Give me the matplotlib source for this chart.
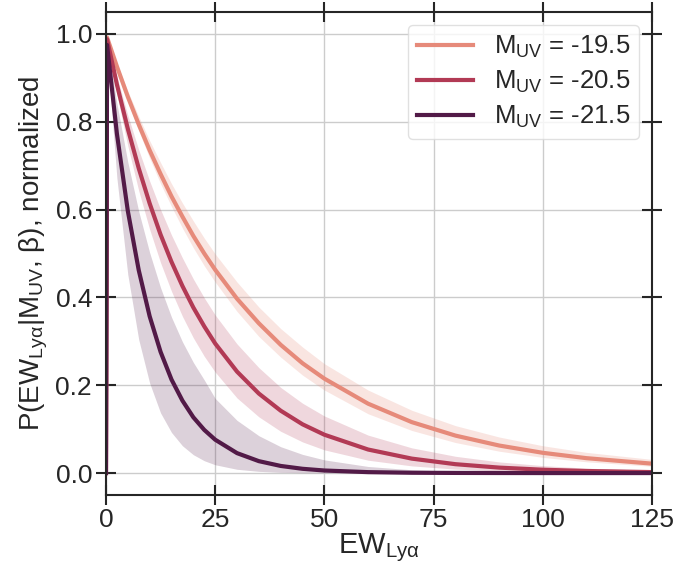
import numpy as np
import matplotlib

matplotlib.use("Agg")
import matplotlib.pyplot as plt

plt.rcParams["font.family"] = ["Liberation Sans", "DejaVu Sans"]
plt.rcParams["mathtext.fontset"] = "custom"
plt.rcParams["mathtext.rm"] = "Liberation Sans"
plt.rcParams["mathtext.it"] = "Liberation Sans:italic"

# EW grid (Angstrom) and normalized P(EW | M_UV, beta) per magnitude bin
ew = [0, 0.25, 2.5, 5, 7.5, 10, 12.5, 15, 17.5, 20, 22.5, 25, 30, 35, 40,
      45, 50, 60, 70, 80, 90, 100, 110, 125]

p_195 = [0.0, 0.992, 0.926, 0.857, 0.794, 0.735, 0.681, 0.630, 0.584, 0.540,
         0.500, 0.463, 0.397, 0.341, 0.292, 0.250, 0.215, 0.158, 0.116,
         0.0853, 0.0627, 0.0461, 0.0339, 0.0214]
lo_195 = [0.0, 0.992, 0.920, 0.846, 0.779, 0.717, 0.659, 0.607, 0.558, 0.513,
          0.472, 0.435, 0.368, 0.311, 0.264, 0.223, 0.189, 0.135, 0.097,
          0.0695, 0.0498, 0.0357, 0.0256, 0.0155]
hi_195 = [0.0, 0.993, 0.933, 0.870, 0.812, 0.757, 0.707, 0.659, 0.615, 0.574,
          0.535, 0.499, 0.435, 0.378, 0.329, 0.287, 0.249, 0.189, 0.143,
          0.108, 0.0821, 0.0622, 0.0471, 0.0311]

p_205 = [0.0, 0.988, 0.885, 0.784, 0.694, 0.614, 0.543, 0.481, 0.426, 0.377,
         0.334, 0.295, 0.231, 0.181, 0.142, 0.111, 0.0873, 0.0536, 0.0329,
         0.0202, 0.0124, 0.0076, 0.0047, 0.0022]
lo_205 = [0.0, 0.985, 0.863, 0.745, 0.643, 0.555, 0.479, 0.414, 0.357, 0.308,
          0.266, 0.230, 0.171, 0.128, 0.0951, 0.0709, 0.0528, 0.0293, 0.0163,
          0.0090, 0.0050, 0.0028, 0.0016, 0.0006]
hi_205 = [0.0, 0.990, 0.903, 0.815, 0.736, 0.665, 0.600, 0.542, 0.490, 0.442,
          0.399, 0.360, 0.294, 0.240, 0.195, 0.159, 0.130, 0.0864, 0.0574,
          0.0382, 0.0254, 0.0169, 0.0112, 0.0061]

p_215 = [0.0, 0.975, 0.773, 0.597, 0.462, 0.357, 0.276, 0.213, 0.165, 0.127,
         0.0983, 0.0760, 0.0454, 0.0271, 0.0162, 0.0097, 0.0058, 0.0021,
         0.0007, 0.0003, 0.0001, 0.0, 0.0, 0.0]
lo_215 = [0.0, 0.961, 0.672, 0.452, 0.304, 0.205, 0.137, 0.0925, 0.0622,
          0.0418, 0.0281, 0.0189, 0.0086, 0.0039, 0.0017, 0.0008, 0.0004,
          0.0, 0.0, 0.0, 0.0, 0.0, 0.0, 0.0]
hi_215 = [0.0, 0.983, 0.842, 0.708, 0.596, 0.502, 0.422, 0.355, 0.299, 0.252,
          0.212, 0.170, 0.120, 0.0850, 0.0600, 0.0425, 0.0300, 0.0150,
          0.0075, 0.0038, 0.0019, 0.0010, 0.0005, 0.0002]

muv_labels = ["-19.5", "-20.5", "-21.5"]
colors = ["#E68A7A", "#B23A55", "#521A47"]
band_alpha = [0.22, 0.2, 0.2]

curves = [(p_195, lo_195, hi_195), (p_205, lo_205, hi_205),
          (p_215, lo_215, hi_215)]

INK = "#262626"

fig = plt.figure(figsize=(6.78, 5.76), dpi=100)
ax = fig.add_axes([0.1563, 0.1406, 0.8054, 0.8386])

for (mid, lo, hi), lab, col, a in zip(curves, muv_labels, colors, band_alpha):
    ax.fill_between(ew, lo, hi, color=col, alpha=a, linewidth=0)
    ax.plot(ew, mid, color=col, lw=3, label=r"M$_{\rm UV}$ = " + lab)

ax.set_xlim(0, 125)
ax.set_ylim(-0.05, 1.05)
ax.set_xticks([0, 25, 50, 75, 100, 125])
ax.set_yticks([0.0, 0.2, 0.4, 0.6, 0.8, 1.0])
ax.grid(True, color="#CCCCCC", lw=1)
ax.set_axisbelow(True)

for side in ax.spines.values():
    side.set_linewidth(1.5)
    side.set_color(INK)
ax.tick_params(direction="inout", length=14, width=1.5, colors=INK,
               labelsize=19, top=True, right=True, pad=3)
ax.tick_params(axis="x", pad=2)

ax.set_xlabel(r"EW$_{\rm Ly\alpha}$", fontsize=21, color=INK, labelpad=0)
ax.set_ylabel(r"P(EW$_{\rm Ly\alpha}$|M$_{\rm UV}$, β), normalized",
              fontsize=20, color=INK, labelpad=4)

leg = ax.legend(loc="upper right", fontsize=18.5, handlelength=2.2,
                framealpha=0.8, edgecolor="#D9D9D9", fancybox=True,
                borderaxespad=0.5, labelspacing=0.35, borderpad=0.35)
for t in leg.get_texts():
    t.set_color(INK)

fig.savefig("out.png", dpi=100)
